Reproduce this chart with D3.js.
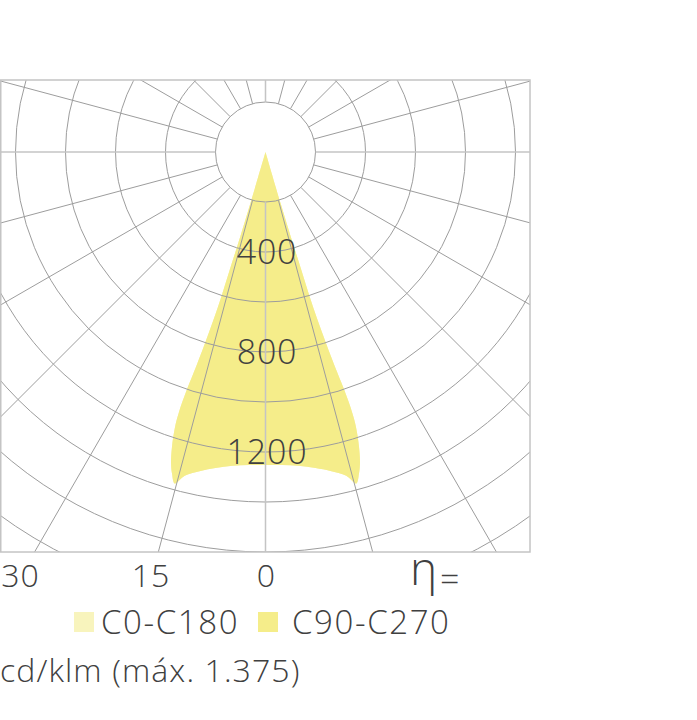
<!DOCTYPE html>
<html>
<head>
<meta charset="utf-8">
<script src="https://cdn.jsdelivr.net/npm/d3@7"></script>
<style>
  html, body { margin: 0; padding: 0; background: #fff; }
  svg { display: block; }
  text { font-family: "Open Sans", Roboto, "Liberation Sans", sans-serif; font-weight: 300; fill: #404040; }
</style>
</head>
<body>
<svg id="chart" width="697" height="720"></svg>
<script>
// ---- data ----
const seriesNames = ["C0-C180", "C90-C270"];
// half profile: gamma angle (deg, from nadir) and intensity (cd/klm), bottom centre -> apex
const gammaC0   = [0, 3, 6, 9, 11.5, 14, 15.3, 16.2, 16.9, 17.6, 18.2, 18.4, 18.3, 17.9, 17.4, 17.0, 16.9, 16.6, 16.4, 16.5];
const valuesC0  = [1252, 1254, 1262, 1280, 1302, 1335, 1375, 1340, 1300, 1237, 1160, 1100, 1000, 900, 757, 617, 493, 353, 214, 0];
const gammaC90  = [0, 3, 6, 9, 11.5, 14, 15.3, 16.2, 16.9, 17.6, 18.2, 18.4, 18.3, 17.9, 17.4, 17.0, 16.9, 16.6, 16.4, 16.5];
const valuesC90 = [1252, 1254, 1262, 1280, 1302, 1335, 1375, 1340, 1300, 1237, 1160, 1100, 1000, 900, 757, 617, 493, 353, 214, 0];
const ringValues = [400, 800, 1200];          // labelled rings
const gridStep = 200;                          // ring spacing (cd/klm)
const angleTicks = [0, 15, 30];               // bottom labels
const unitLabel = "cd/klm";
const etaLabel = "η";

// ---- layout ----
const W = 697, H = 720;
const frame = {x: 0, y: 80, w: 530, h: 472};
const cx = 265.5, cy = 152;
const colors = {"C0-C180": "#f8f4bd", "C90-C270": "#f5ed8a"};

const svg = d3.select("#chart");
const r = d3.scaleLinear().domain([0, 1600]).range([0, 400]);
const toRad = d => d * Math.PI / 180;

svg.append("defs").append("clipPath").attr("id", "frameClip")
  .append("rect").attr("x", frame.x).attr("y", frame.y).attr("width", frame.w).attr("height", frame.h);

const plot = svg.append("g").attr("clip-path", "url(#frameClip)");
const g = plot.append("g").attr("transform", `translate(${cx},${cy})`);

// ---- curves ----
function fullOutline(gammas, vals) {
  const pts = [];
  for (let i = gammas.length - 1; i >= 0; i--) pts.push([Math.PI + toRad(gammas[i]), vals[i]]);
  for (let i = 1; i < gammas.length; i++) pts.push([Math.PI - toRad(gammas[i]), vals[i]]);
  return pts;
}
const radial = d3.lineRadial()
  .angle(d => d[0]).radius(d => r(d[1]))
  .curve(d3.curveCatmullRom.alpha(0.5));

const series = [
  {name: "C0-C180", pts: fullOutline(gammaC0, valuesC0)},
  {name: "C90-C270", pts: fullOutline(gammaC90, valuesC90)}
];
g.selectAll("path.curve").data(series).join("path")
  .attr("class", "curve")
  .attr("d", d => radial(d.pts) + "Z")
  .attr("fill", d => colors[d.name])
  .attr("stroke", "none");

// ---- grid ----
const rings = d3.range(gridStep, 2400 + 1, gridStep);
g.selectAll("circle.ring").data(rings).join("circle")
  .attr("class", "ring")
  .attr("r", d => r(d))
  .attr("fill", "none")
  .attr("stroke", "#9d9d9d")
  .attr("stroke-width", 1);

const spokes = d3.range(0, 360, 15);
g.selectAll("line.spoke").data(spokes).join("line")
  .attr("class", "spoke")
  .attr("x1", d => r(gridStep) * Math.sin(toRad(d)))
  .attr("y1", d => -r(gridStep) * Math.cos(toRad(d)))
  .attr("x2", d => r(2400) * Math.sin(toRad(d)))
  .attr("y2", d => -r(2400) * Math.cos(toRad(d)))
  .attr("stroke", d => d % 90 === 0 ? "#c4c4c4" : "#9d9d9d")
  .attr("stroke-width", d => d % 90 === 0 ? 1.5 : 1);

svg.append("rect")
  .attr("x", frame.x + 0.75).attr("y", frame.y)
  .attr("width", frame.w - 0.75).attr("height", frame.h)
  .attr("fill", "none").attr("stroke", "#c4c4c4").attr("stroke-width", 1.5);

// ---- ring labels ----
g.selectAll("text.ringLabel").data(ringValues).join("text")
  .attr("class", "ringLabel")
  .attr("x", 1.5)
  .attr("y", d => r(d) + 12)
  .attr("text-anchor", "middle")
  .style("font-size", "34px")
  .style("letter-spacing", "0.8px")
  .text(d => d);

// ---- bottom angle labels ----
const xAng = d3.scaleLinear().domain([0, 15, 30]).range([266.5, 151, 20.5]);
svg.selectAll("text.angLabel").data(angleTicks).join("text")
  .attr("class", "angLabel")
  .attr("x", d => xAng(d))
  .attr("y", 587)
  .attr("text-anchor", "middle")
  .style("font-size", "32px")
  .style("letter-spacing", "1px")
  .text(d => d);

svg.append("text").attr("x", 410).attr("y", 585).style("font-size", "46px").text(etaLabel);
svg.append("text").attr("x", 440).attr("y", 591).style("font-size", "34px").text("=");

// ---- legend ----
const legendPos = [{sx: 74, tx: 101}, {sx: 258, tx: 292}];
const leg = svg.selectAll("g.leg").data(seriesNames).join("g").attr("class", "leg");
leg.append("rect")
  .attr("x", (d, i) => legendPos[i].sx).attr("y", 612)
  .attr("width", 20).attr("height", 20)
  .attr("fill", d => colors[d]);
leg.append("text")
  .attr("x", (d, i) => legendPos[i].tx).attr("y", 634)
  .style("font-size", "33px")
  .style("letter-spacing", "1.6px")
  .text(d => d);

// ---- unit / max ----
const es = d3.formatLocale({decimal: ",", thousands: ".", grouping: [3], currency: ["", "€"]});
const maxVal = d3.max(valuesC0.concat(valuesC90));
svg.append("text").attr("x", 0).attr("y", 682)
  .style("font-size", "32px")
  .style("letter-spacing", "1.1px")
  .text(`${unitLabel} (máx. ${es.format(",")(maxVal)})`);
</script>
</body>
</html>
